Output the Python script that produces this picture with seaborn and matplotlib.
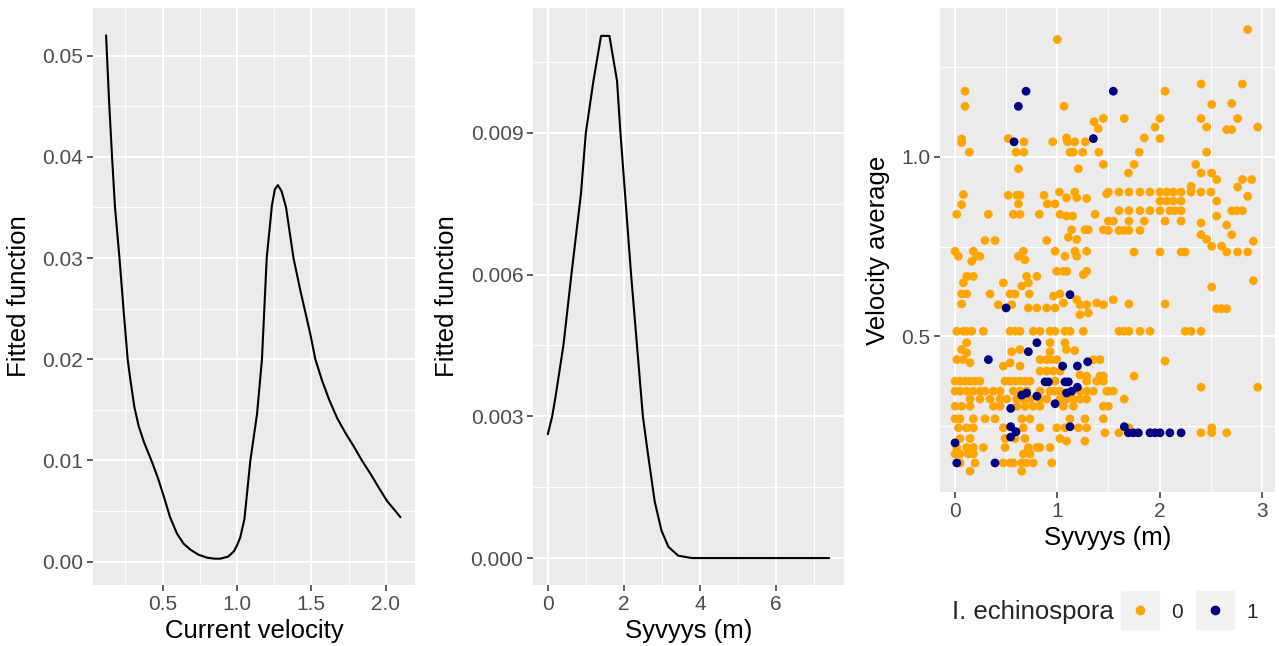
"""
Fitted response curves and depth/velocity scatter, ggplot-like look.
"""

import numpy as np
import pandas as pd
import matplotlib
matplotlib.use("Agg")
import matplotlib.pyplot as plt
from matplotlib.lines import Line2D
from matplotlib.legend_handler import HandlerTuple
import seaborn as sns

# --- panel 1 : fitted function vs current velocity
velocity_grid = [0.12, 0.14, 0.16, 0.18, 0.21, 0.238, 0.265, 0.283, 0.31, 0.339, 0.375,
                 0.43, 0.47, 0.507, 0.55, 0.596, 0.64, 0.686, 0.74, 0.798, 0.85, 0.888,
                 0.94, 0.978, 1.0, 1.022, 1.05, 1.09, 1.135, 1.168, 1.20, 1.235, 1.255,
                 1.275, 1.30, 1.33, 1.38, 1.426, 1.493, 1.527, 1.572, 1.62, 1.673, 1.73,
                 1.785, 1.84, 1.897, 1.95, 2.009, 2.06, 2.099]
velocity_fit = [0.0520, 0.0455, 0.0400, 0.0350, 0.0300, 0.0248, 0.0200, 0.0180, 0.0153,
                0.0134, 0.0118, 0.0098, 0.0082, 0.0065, 0.0044, 0.0028, 0.0018, 0.0012,
                0.0007, 0.0004, 0.0003, 0.0003, 0.0005, 0.0010, 0.0016, 0.0024, 0.0042,
                0.0100, 0.0146, 0.0200, 0.0300, 0.0352, 0.0368, 0.0372, 0.0366, 0.0350,
                0.0300, 0.0268, 0.0225, 0.0200, 0.0179, 0.0160, 0.0142, 0.0127, 0.0114,
                0.0100, 0.0087, 0.0074, 0.0060, 0.0051, 0.0044]

# --- panel 2 : fitted function vs depth
depth_grid = [0.0, 0.115, 0.2, 0.41, 0.62, 0.87, 1.0, 1.2, 1.4, 1.62, 1.82, 1.91, 2.19,
              2.5, 2.62, 2.81, 2.99, 3.17, 3.43, 3.79, 4.0, 5.0, 6.0, 7.4]
depth_fit = [0.00262, 0.0030, 0.0034, 0.0045, 0.0060, 0.0077, 0.0090, 0.0101, 0.01105,
             0.01105, 0.0101, 0.0090, 0.0060, 0.0030, 0.00228, 0.0012, 0.00058, 0.00024,
             0.00005, 0.0, 0.0, 0.0, 0.0, 0.0]

# --- panel 3 : observations, absent (0)
absent_depth = [
    1.0, 2.861,
    0.098, 0.098, 1.066,
    2.053, 2.405, 2.809, 2.509, 2.705,
    1.359, 1.45, 1.40, 1.655, 2.004, 1.955, 2.405, 2.46, 2.656, 2.705, 2.763, 2.959,
    0.065, 0.065, 0.52, 0.674, 0.955, 1.09, 1.10, 1.17, 1.274, 1.85, 2.004,
    0.14, 0.596, 0.674, 1.124, 1.157, 1.248, 1.405, 1.80, 2.46,
    1.45, 1.75, 2.353,
    0.62, 1.205, 1.695, 2.405, 2.509,
    2.558, 2.809, 2.9, 2.307, 2.763,
    0.081, 0.52, 0.603, 0.635, 0.87, 1.02, 1.17, 1.09, 1.19, 1.287, 1.483, 2.861,
    1.499, 1.603, 1.70, 1.808, 1.906, 2.004, 2.069, 2.134, 2.21, 2.307, 2.405, 2.502,
    2.004, 2.069, 2.134, 2.21, 2.558,
    0.065, 0.62, 0.902, 0.978,
    1.603, 1.70, 1.808, 1.906, 2.004, 2.10, 2.15, 2.21, 2.705, 2.753, 2.809,
    0.017, 0.326, 0.57, 0.635, 0.824, 1.026, 1.369, 2.558, 1.09, 1.15,
    1.499, 1.547, 1.70, 1.85, 2.053, 2.21, 2.405, 2.656,
    1.14, 1.27, 1.303, 1.45, 1.499, 1.603, 1.655, 1.70, 1.808,
    2.405, 2.705, 1.108, 1.19, 2.46, 2.916,
    0.293, 0.391, 0.896,
    2.509, 2.607,
    0.0, 0.179, 0.668, 0.978, 1.173, 1.287, 1.75, 2.004, 2.21, 2.25, 2.656, 2.763, 2.861,
    0.033, 0.212, 0.244, 0.62, 1.075, 1.19,
    0.163, 0.684,
    0.994, 1.059, 1.092, 1.287, 1.254,
    0.114, 0.179, 0.70, 0.80,
    0.081, 0.717, 0.472, 0.652,
    2.916, 2.509,
    0.065, 0.114, 0.342, 0.538, 0.587, 0.726, 0.961, 1.026,
    1.059, 1.19, 1.222, 1.287, 1.385, 1.45, 0.065, 0.423, 0.554, 1.547, 1.70, 2.053,
    0.717, 0.8, 0.896, 0.978, 2.558, 2.607, 2.656,
    1.222, 1.303,
    0.017, 0.081, 0.114, 0.163, 0.277, 0.538, 0.587, 0.635, 0.765, 0.83, 0.929, 0.978,
    1.075, 1.124, 1.254, 1.603, 1.655, 1.70, 1.808, 1.906, 2.25, 2.307, 2.405,
    0.114, 0.929, 1.075,
    0.065, 0.114, 0.554, 0.635, 0.929, 1.09, 1.17,
    2.053,
    0.017, 0.081, 0.147, 0.472, 0.538, 0.635, 0.831, 0.896, 0.945, 0.994, 1.352, 1.417,
    0.831, 0.896, 0.961, 1.026, 1.222, 1.287, 1.417, 1.45, 1.75,
    0.0, 0.049, 0.098, 0.147, 0.196, 0.244, 0.489, 0.538, 0.587, 0.635, 0.684, 0.733,
    0.978, 1.287, 1.385, 1.45,
    2.405, 2.959,
    0.0, 0.049, 0.114, 0.179, 0.244, 0.293, 0.375, 0.44, 0.57, 0.635, 0.70, 0.831,
    0.929, 0.978, 1.026, 1.222, 1.287, 1.352, 1.483, 1.499, 1.547,
    0.147, 0.244, 0.342, 0.44, 0.505, 0.603, 0.668, 0.733, 0.831, 0.896, 1.026, 1.09,
    1.157, 1.222, 1.287, 1.655,
    0.0, 0.065, 0.147, 0.375, 0.44, 0.603, 0.684, 0.765, 0.831, 1.059, 1.157, 1.45, 1.499,
    0.0, 0.049, 0.179, 0.293, 0.391, 0.652, 0.733, 1.124, 1.27, 1.45,
    0.033, 0.114, 0.179, 0.472, 0.668, 0.831, 0.994, 1.075, 1.206, 1.287, 1.70, 2.509,
    1.466, 1.603, 2.405, 2.509, 2.656,
    0.049, 0.147, 0.489, 0.587, 0.684, 1.026, 1.09, 1.27,
    0.017, 0.114, 0.179, 0.277, 0.489, 0.717, 0.80, 0.831, 0.929,
    0.0, 0.049, 0.13, 0.179, 0.668, 0.733,
    0.049, 0.196, 0.472, 0.538, 0.57, 0.652, 0.70, 0.765, 0.945,
    0.147, 0.652,
]
absent_velocity = [
    1.327, 1.355,
    1.183, 1.141, 1.141,
    1.183, 1.203, 1.203, 1.146, 1.149,
    1.098, 1.107, 1.079, 1.107, 1.107, 1.083, 1.107, 1.083, 1.076, 1.076, 1.107, 1.083,
    1.05, 1.04, 1.051, 1.042, 1.042, 1.053, 1.042, 1.042, 1.042, 1.053, 1.051,
    1.013, 1.013, 1.013, 1.013, 1.013, 1.013, 1.013, 1.013, 1.013,
    0.979, 0.979, 0.979,
    0.967, 0.967, 0.955, 0.955, 0.955,
    0.937, 0.937, 0.937, 0.918, 0.916,
    0.895, 0.893, 0.893, 0.893, 0.893, 0.902, 0.902, 0.886, 0.886, 0.884, 0.897, 0.89,
    0.902, 0.902, 0.902, 0.902, 0.902, 0.902, 0.902, 0.902, 0.902, 0.902, 0.902, 0.902,
    0.877, 0.877, 0.877, 0.877, 0.877,
    0.867, 0.869, 0.869, 0.869,
    0.85, 0.85, 0.85, 0.85, 0.85, 0.85, 0.85, 0.85, 0.85, 0.85, 0.85,
    0.84, 0.84, 0.84, 0.84, 0.84, 0.84, 0.84, 0.835, 0.835, 0.835,
    0.821, 0.821, 0.821, 0.821, 0.821, 0.821, 0.816, 0.81,
    0.797, 0.797, 0.797, 0.797, 0.795, 0.795, 0.795, 0.795, 0.795,
    0.783, 0.783, 0.776, 0.77, 0.77, 0.765,
    0.767, 0.767, 0.767,
    0.751, 0.751,
    0.737, 0.737, 0.737, 0.737, 0.737, 0.737, 0.735, 0.735, 0.735, 0.735, 0.735, 0.735, 0.735,
    0.723, 0.723, 0.723, 0.723, 0.723, 0.723,
    0.709, 0.713,
    0.681, 0.681, 0.681, 0.681, 0.672,
    0.667, 0.667, 0.667, 0.667,
    0.649, 0.649, 0.649, 0.64,
    0.655, 0.637,
    0.618, 0.618, 0.618, 0.618, 0.618, 0.618, 0.612, 0.618,
    0.593, 0.602, 0.588, 0.588, 0.593, 0.588, 0.59, 0.588, 0.588, 0.602, 0.59, 0.59,
    0.579, 0.579, 0.579, 0.579, 0.577, 0.577, 0.577,
    0.56, 0.565,
    0.514, 0.514, 0.514, 0.514, 0.514, 0.514, 0.514, 0.514, 0.514, 0.514, 0.514, 0.514,
    0.514, 0.514, 0.514, 0.514, 0.514, 0.514, 0.514, 0.514, 0.514, 0.514, 0.514,
    0.482, 0.482, 0.482,
    0.463, 0.454, 0.457, 0.463, 0.457, 0.463, 0.46,
    0.431,
    0.435, 0.435, 0.426, 0.417, 0.426, 0.417, 0.435, 0.435, 0.435, 0.435, 0.435, 0.435,
    0.403, 0.403, 0.403, 0.403, 0.392, 0.389, 0.389, 0.389, 0.389,
    0.375, 0.375, 0.375, 0.375, 0.375, 0.375, 0.375, 0.375, 0.375, 0.375, 0.375, 0.375,
    0.375, 0.375, 0.375, 0.375,
    0.358, 0.358,
    0.347, 0.347, 0.347, 0.347, 0.347, 0.347, 0.347, 0.347, 0.347, 0.347, 0.347, 0.347,
    0.347, 0.347, 0.347, 0.347, 0.347, 0.347, 0.347, 0.347, 0.347,
    0.325, 0.325, 0.325, 0.325, 0.325, 0.325, 0.325, 0.325, 0.325, 0.325, 0.325, 0.325,
    0.325, 0.325, 0.325, 0.325,
    0.305, 0.305, 0.305, 0.305, 0.305, 0.305, 0.305, 0.305, 0.305, 0.305, 0.305, 0.305, 0.305,
    0.27, 0.27, 0.27, 0.27, 0.27, 0.27, 0.27, 0.27, 0.27, 0.27,
    0.245, 0.245, 0.245, 0.245, 0.245, 0.245, 0.245, 0.245, 0.245, 0.245, 0.245, 0.245,
    0.231, 0.231, 0.231, 0.231, 0.231,
    0.215, 0.215, 0.215, 0.215, 0.215, 0.215, 0.208, 0.208,
    0.19, 0.19, 0.19, 0.19, 0.19, 0.19, 0.19, 0.19, 0.19,
    0.172, 0.172, 0.172, 0.172, 0.172, 0.172,
    0.147, 0.147, 0.147, 0.147, 0.147, 0.147, 0.147, 0.147, 0.147,
    0.124, 0.124,
]

# --- panel 3 : observations, present (1)
present_depth = [0.694, 0.619, 1.547, 1.352, 0.577,
                 0.499, 1.124,
                 0.8, 0.717, 0.326, 1.052, 1.196, 1.297,
                 0.88, 0.912, 1.075, 1.108,
                 1.09, 1.14, 1.196, 0.652, 0.70, 0.8, 0.978, 0.544,
                 0.544, 0.596, 0.544, 1.124,
                 0.0, 0.017, 0.391,
                 1.655, 1.695, 1.743, 1.792, 1.906, 1.955, 2.004, 2.10, 2.21]
present_velocity = [1.183, 1.141, 1.183, 1.051, 1.042,
                    0.579, 0.616,
                    0.482, 0.457, 0.435, 0.417, 0.417, 0.429,
                    0.373, 0.373, 0.373, 0.373,
                    0.342, 0.347, 0.358, 0.336, 0.342, 0.333, 0.312, 0.299,
                    0.248, 0.234, 0.219, 0.248,
                    0.203, 0.147, 0.147,
                    0.248, 0.231, 0.231, 0.231, 0.231, 0.231, 0.231, 0.231, 0.231]

PALETTE = {0: "#FFA500", 1: "#000080"}
W, H = 1282, 646


def px_box(x0, y0, x1, y1):
    # pixel box (top-left origin) -> figure fraction rect
    return [x0 / W, 1 - y1 / H, (x1 - x0) / W, (y1 - y0) / H]


def gg_axes(ax, xmaj, xmin, ymaj, ymin, xfmt, yfmt):
    ax.set_facecolor("#EBEBEB")
    for s in ax.spines.values():
        s.set_visible(False)
    ax.set_xticks(xmaj)
    ax.set_xticklabels([xfmt.format(v) for v in xmaj])
    ax.set_yticks(ymaj)
    ax.set_yticklabels([yfmt.format(v) for v in ymaj])
    ax.set_xticks(xmin, minor=True)
    ax.set_yticks(ymin, minor=True)
    ax.grid(which="major", color="white", linewidth=1.4)
    ax.grid(which="minor", color="white", linewidth=0.7)
    ax.set_axisbelow(True)
    ax.tick_params(which="major", bottom=True, left=True, length=4, width=1.1,
                   color="#333333", labelcolor="#4D4D4D", labelsize=15, pad=3)
    ax.tick_params(which="minor", bottom=False, left=False, length=0)


sns.set_theme(style="darkgrid")
plt.rcParams["font.family"] = ["Liberation Sans", "DejaVu Sans"]

fig = plt.figure(figsize=(W / 100, H / 100), dpi=100)
fig.patch.set_facecolor("white")

# panel 1
ax1 = fig.add_axes(px_box(93, 8, 415, 585))
curve1 = pd.DataFrame({"x": velocity_grid, "y": velocity_fit})
sns.lineplot(data=curve1, x="x", y="y", color="black", linewidth=1.5, sort=False, ax=ax1)
ax1.set_xlim(0.032, 2.197)
ax1.set_ylim(-0.0023, 0.0547)
gg_axes(ax1, [0.5, 1.0, 1.5, 2.0], [0.25, 0.75, 1.25, 1.75],
        [0.0, 0.01, 0.02, 0.03, 0.04, 0.05],
        [0.005, 0.015, 0.025, 0.035, 0.045], "{:.1f}", "{:.2f}")
ax1.set_xlabel("Current velocity", fontsize=18.5, color="black", labelpad=4)
ax1.set_ylabel("Fitted function", fontsize=18.5, color="black", labelpad=8)

# panel 2
ax2 = fig.add_axes(px_box(533, 8, 844, 585))
curve2 = pd.DataFrame({"x": depth_grid, "y": depth_fit})
sns.lineplot(data=curve2, x="x", y="y", color="black", linewidth=1.5, sort=False, ax=ax2)
ax2.set_xlim(-0.39, 7.79)
ax2.set_ylim(-0.00057, 0.01164)
gg_axes(ax2, [0, 2, 4, 6], [1, 3, 5, 7],
        [0.0, 0.003, 0.006, 0.009], [0.0015, 0.0045, 0.0075, 0.0105], "{:.0f}", "{:.3f}")
ax2.set_xlabel("Syvyys (m)", fontsize=18.5, color="black", labelpad=4)
ax2.set_ylabel("Fitted function", fontsize=18.5, color="black", labelpad=8)

# panel 3
ax3 = fig.add_axes(px_box(940, 8, 1275, 492))
obs = pd.concat([
    pd.DataFrame({"depth": absent_depth, "velocity": absent_velocity, "presence": 0}),
    pd.DataFrame({"depth": present_depth, "velocity": present_velocity, "presence": 1}),
], ignore_index=True)
sns.scatterplot(data=obs, x="depth", y="velocity", hue="presence", palette=PALETTE,
                s=40, linewidth=0, alpha=1, legend=False, ax=ax3)
ax3.set_xlim(-0.147, 3.128)
ax3.set_ylim(0.066, 1.415)
gg_axes(ax3, [0, 1, 2, 3], [0.5, 1.5, 2.5], [0.5, 1.0], [0.25, 0.75, 1.25],
        "{:.0f}", "{:.1f}")
ax3.set_xlabel("Syvyys (m)", fontsize=18.5, color="black", labelpad=4)
ax3.set_ylabel("Velocity average", fontsize=18.5, color="black", labelpad=8)

# legend at the bottom, title on the left
fig.text(952 / W, 1 - 612 / H, "I. echinospora", fontsize=18.5, ha="left", va="center")
handles = []
for k in (0, 1):
    key_bg = Line2D([], [], marker="s", markersize=28, color="#F2F2F2", linestyle="")
    dot = Line2D([], [], marker="o", markersize=6, color=PALETTE[k], linestyle="")
    handles.append((key_bg, dot))
fig.legend(handles, ["0", "1"], handler_map={tuple: HandlerTuple(ndivide=1, pad=0)},
           loc="center left", bbox_to_anchor=(1120 / W, 1 - 612 / H), ncol=2,
           frameon=False, fontsize=15, handlelength=1.9, handletextpad=0.55,
           columnspacing=0.6, borderpad=0, borderaxespad=0)

fig.savefig("out.png", dpi=100)
plt.close(fig)
